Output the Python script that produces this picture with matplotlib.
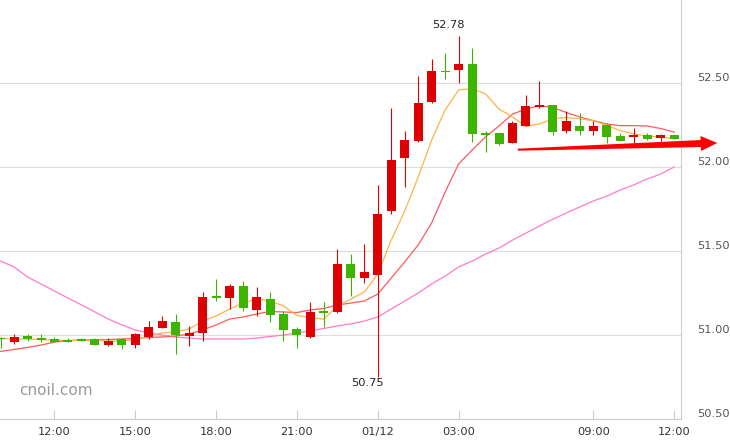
import matplotlib
matplotlib.use('Agg')
import matplotlib.pyplot as plt
from matplotlib.patches import Polygon
from matplotlib.transforms import ScaledTranslation, IdentityTransform
import numpy as np

# ---- data (30-minute candles) ----
opens = [50.985, 50.96, 50.995, 50.98, 50.976, 50.965, 50.974, 50.976, 50.942, 50.976,
         50.942, 50.99, 51.044, 51.077, 50.997, 51.01, 51.23, 51.222, 51.292, 51.151,
         51.214, 51.125, 51.036, 50.99, 51.139, 51.135, 51.423, 51.341, 51.36, 51.74,
         52.052, 52.157, 52.389, 52.571, 52.579, 52.613, 52.2, 52.202, 52.141, 52.244,
         52.355, 52.367, 52.212, 52.244, 52.216, 52.25, 52.185, 52.18, 52.19, 52.171,
         52.19]
highs = [50.99, 51.005, 51.004, 51.006, 50.99, 50.98, 50.98, 50.982, 50.98, 50.98,
         51.012, 51.082, 51.113, 51.125, 51.054, 51.256, 51.333, 51.304, 51.321, 51.286,
         51.256, 51.141, 51.046, 51.199, 51.199, 51.512, 51.482, 51.542, 51.893, 52.349,
         52.214, 52.542, 52.643, 52.679, 52.78, 52.708, 52.214, 52.205, 52.276, 52.429,
         52.512, 52.37, 52.333, 52.319, 52.276, 52.262, 52.202, 52.232, 52.202, 52.195,
         52.19]
lows = [50.92, 50.945, 50.966, 50.96, 50.957, 50.957, 50.963, 50.94, 50.937, 50.918,
        50.925, 50.976, 51.04, 50.887, 50.937, 50.967, 51.204, 51.155, 51.143, 51.115,
        51.08, 50.966, 50.921, 50.984, 51.05, 51.129, 51.234, 51.308, 50.75, 51.72,
        51.883, 52.15, 52.381, 52.524, 52.5, 52.147, 52.087, 52.13, 52.14, 52.244,
        52.35, 52.192, 52.202, 52.19, 52.192, 52.143, 52.155, 52.145, 52.161, 52.157,
        52.168]
closes = [50.975, 50.99, 50.978, 50.97, 50.96, 50.96, 50.967, 50.942, 50.964, 50.942,
          51.004, 51.046, 51.082, 51.0, 51.01, 51.224, 51.222, 51.292, 51.163, 51.226,
          51.12, 51.032, 51.002, 51.135, 51.133, 51.423, 51.341, 51.375, 51.72, 52.042,
          52.161, 52.381, 52.571, 52.565, 52.613, 52.196, 52.188, 52.137, 52.262, 52.361,
          52.367, 52.21, 52.274, 52.216, 52.242, 52.18, 52.157, 52.19, 52.168, 52.19,
          52.168]
ma_fast = [50.979, 50.976, 50.976, 50.973, 50.97, 50.967, 50.967, 50.967, 50.964, 50.964,
           50.973, 50.994, 51.012, 51.018, 51.036, 51.083, 51.113, 51.155, 51.19, 51.214,
           51.202, 51.173, 51.116, 51.104, 51.095, 51.173, 51.214, 51.256, 51.363, 51.565,
           51.738, 51.94, 52.16, 52.34, 52.458, 52.467, 52.435, 52.345, 52.298, 52.241,
           52.256, 52.286, 52.295, 52.286, 52.276, 52.246, 52.217, 52.196, 52.185, 52.177,
           52.171]
ma_mid = [50.902, 50.914, 50.926, 50.94, 50.958, 50.967, 50.97, 50.97, 50.973, 50.976,
          50.979, 50.985, 50.988, 50.994, 51.006, 51.03, 51.06, 51.095, 51.107, 51.125,
          51.14, 51.137, 51.134, 51.149, 51.158, 51.179, 51.19, 51.202, 51.244, 51.339,
          51.435, 51.536, 51.667, 51.851, 52.018, 52.101, 52.179, 52.244, 52.315, 52.345,
          52.365, 52.354, 52.324, 52.298, 52.276, 52.256, 52.246, 52.246, 52.244, 52.229,
          52.207]
ma_slow = [51.44, 51.405, 51.345, 51.304, 51.262, 51.22, 51.179, 51.137, 51.095, 51.06,
           51.03, 51.012, 51.0, 50.988, 50.982, 50.976, 50.976, 50.976, 50.976, 50.982,
           50.991, 51.0, 51.012, 51.024, 51.039, 51.054, 51.066, 51.083, 51.107, 51.155,
           51.202, 51.25, 51.304, 51.351, 51.405, 51.44, 51.482, 51.518, 51.565, 51.607,
           51.649, 51.69, 51.726, 51.762, 51.798, 51.827, 51.863, 51.893, 51.929, 51.958,
           52.0]
tick_pos = [4, 10, 16, 22, 28, 34, 44, 50]
tick_labels = ['12:00', '15:00', '18:00', '21:00', '01/12', '03:00', '09:00', '12:00']
y_ticks = [50.5, 51.0, 51.5, 52.0, 52.5]
y_tick_labels = ['50.50', '51.00', '51.50', '52.00', '52.50']
high_label = '52.78'
low_label = '50.75'
watermark = 'cnoil.com'
arrow_start = (38.4, 52.103)
arrow_end = (53.2, 52.143)

UP = '#dd0000'
DOWN = '#3cb400'

fig = plt.figure(figsize=(7.3, 4.42), dpi=100)
ax = fig.add_axes([0, 23 / 442, 681 / 730, 419 / 442])

x = np.arange(len(opens))
o = np.array(opens); c = np.array(closes); h = np.array(highs); l = np.array(lows)
cols = [UP if cc >= oo else DOWN for oo, cc in zip(o, c)]

# MA lines (behind candles)
ax.plot(x, ma_slow, color='#ff7ccb', lw=0.9, zorder=2)
ax.plot(x, ma_mid, color='#ff5a5a', lw=0.9, zorder=2)
ax.plot(x, ma_fast, color='#ffb347', lw=0.9, zorder=2)

# candles
ax.vlines(x, l, h, colors=cols, lw=0.8, zorder=3)
bottoms = np.minimum(o, c)
heights = np.maximum(np.abs(c - o), 0.008)
ax.bar(x, heights, bottom=bottoms, width=0.67, color=cols, linewidth=0, zorder=4)

ax.set_xlim(-0.045, 50.51)
ax.set_ylim(50.5, 52.994)

# axes styling
for s in ['top', 'left']:
    ax.spines[s].set_visible(False)
for s in ['bottom', 'right']:
    ax.spines[s].set_color('#cccccc')
    ax.spines[s].set_linewidth(0.8)

ax.yaxis.tick_right()
ax.set_yticks(y_ticks)
ax.set_yticklabels(y_tick_labels, family='DejaVu Sans')
ax.tick_params(axis='y', length=0, pad=11.5, labelsize=8.2, labelcolor='#555555')
ax.grid(axis='y', color='#dddddd', lw=0.8, zorder=0)
ax.set_axisbelow(True)
for lab in ax.get_yticklabels():
    lab.set_transform(lab.get_transform() + ScaledTranslation(0, 6 / 100, fig.dpi_scale_trans))

ax.set_xticks(tick_pos)
ax.set_xticklabels(tick_labels, family='DejaVu Sans')
ax.tick_params(axis='x', direction='in', length=6.5, width=0.8, color='#cccccc',
               pad=5.5, labelsize=8.2, labelcolor='#333333')

# high / low annotations
i_hi = int(np.argmax(h)); i_lo = int(np.argmin(l))
ax.annotate(high_label, (i_hi, h[i_hi]), xytext=(-10, 8), textcoords='offset pixels',
            ha='center', va='baseline', fontsize=8.2, color='#222222', family='DejaVu Sans')
ax.annotate(low_label, (i_lo, l[i_lo]), xytext=(-10, -1), textcoords='offset pixels',
            ha='center', va='top', fontsize=8.2, color='#222222', family='DejaVu Sans')

# watermark
ax.text(19 / 681, (419 - 395) / 419, watermark, transform=ax.transAxes, fontsize=11,
        color='#9a9a9a', family='DejaVu Sans', va='baseline', ha='left', zorder=1)

# red arrow (tapered shaft + head), in display pixels
p0 = ax.transData.transform(arrow_start)
p1 = ax.transData.transform(arrow_end)
d = p1 - p0
L = np.hypot(*d)
u = d / L
nrm = np.array([-u[1], u[0]])
head_len, head_hw, w0, w1 = 16.5, 7.5, 1.0, 3.5
pb = p1 - u * head_len
pts = [p0 + nrm * w0, pb + nrm * w1, pb + nrm * head_hw, p1,
       pb - nrm * head_hw, pb - nrm * w1, p0 - nrm * w0]
fig.add_artist(Polygon(pts, closed=True, facecolor='#ff0000', edgecolor='none',
                       transform=IdentityTransform(), zorder=10))

fig.savefig('out.png', dpi=100)
